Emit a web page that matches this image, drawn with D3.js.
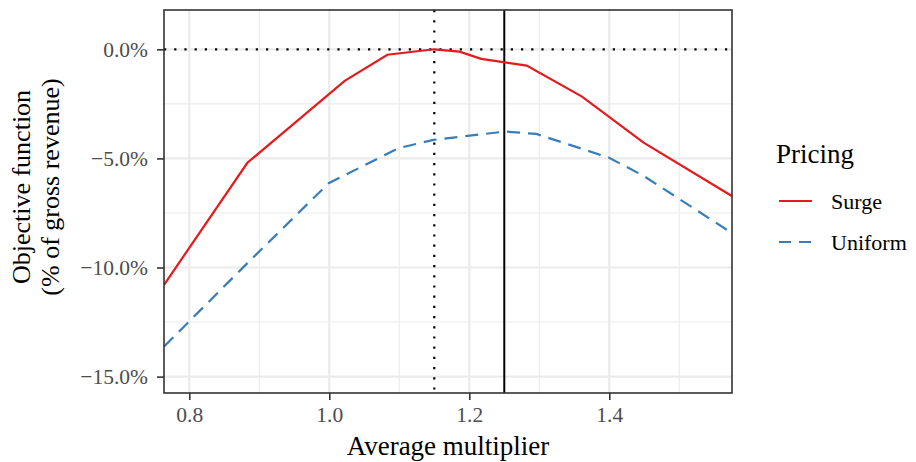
<!DOCTYPE html>
<html>
<head>
<meta charset="utf-8">
<script src="https://cdn.jsdelivr.net/npm/d3@7"></script>
<style>
  body { margin: 0; background: #fff; }
  svg text { font-family: "Liberation Serif", "DejaVu Serif", serif; }
</style>
</head>
<body>
<div id="chart"></div>
<script>
// data (y in % of gross revenue)
const surgeX = [0.764, 0.883, 1.022, 1.083, 1.15, 1.186, 1.217, 1.282, 1.361, 1.449, 1.575];
const surgeY = [-10.79, -5.2, -1.45, -0.25, 0.0, -0.11, -0.44, -0.75, -2.17, -4.28, -6.72];
const uniformX = [0.764, 0.883, 0.999, 1.099, 1.149, 1.251, 1.296, 1.399, 1.449, 1.575];
const uniformY = [-13.62, -9.8, -6.14, -4.53, -4.15, -3.77, -3.88, -4.96, -5.8, -8.42];
const seriesNames = ['Surge', 'Uniform'];
const seriesColors = ['#E41A1C', '#377EB8'];
const xTicks = [0.8, 1.0, 1.2, 1.4];
const xMinor = [0.9, 1.1, 1.3, 1.5];
const yTicks = [0, -5, -10, -15];
const yMinor = [-2.5, -7.5, -12.5];
const surgeOpt = 1.15;
const uniformOpt = 1.25;

const width = 916, height = 462;
const panel = { left: 164, right: 732, top: 10, bottom: 393 };

const svg = d3.select('#chart').append('svg')
  .attr('width', width)
  .attr('height', height);

const x = d3.scaleLinear().domain([0.7639, 1.5753]).range([panel.left, panel.right]);
const y = d3.scaleLinear().domain([-15.75, 1.8]).range([panel.bottom, panel.top]);

svg.append('defs').append('clipPath').attr('id', 'clip')
  .append('rect')
  .attr('x', panel.left).attr('y', panel.top)
  .attr('width', panel.right - panel.left)
  .attr('height', panel.bottom - panel.top);

// grid
const grid = svg.append('g');
grid.selectAll('.xminor').data(xMinor).enter().append('line')
  .attr('x1', d => x(d)).attr('x2', d => x(d))
  .attr('y1', panel.top).attr('y2', panel.bottom)
  .attr('stroke', '#ebebeb').attr('stroke-width', 1.1);
grid.selectAll('.yminor').data(yMinor).enter().append('line')
  .attr('y1', d => y(d)).attr('y2', d => y(d))
  .attr('x1', panel.left).attr('x2', panel.right)
  .attr('stroke', '#ebebeb').attr('stroke-width', 1.1);
grid.selectAll('.xmajor').data(xTicks).enter().append('line')
  .attr('x1', d => x(d)).attr('x2', d => x(d))
  .attr('y1', panel.top).attr('y2', panel.bottom)
  .attr('stroke', '#ebebeb').attr('stroke-width', 2.2);
grid.selectAll('.ymajor').data(yTicks).enter().append('line')
  .attr('y1', d => y(d)).attr('y2', d => y(d))
  .attr('x1', panel.left).attr('x2', panel.right)
  .attr('stroke', '#ebebeb').attr('stroke-width', 2.2);

const plot = svg.append('g').attr('clip-path', 'url(#clip)');

// reference lines
plot.append('line')
  .attr('x1', panel.left).attr('x2', panel.right)
  .attr('y1', y(0)).attr('y2', y(0))
  .attr('stroke', '#000').attr('stroke-width', 2.2)
  .attr('stroke-dasharray', '2.2 8');
plot.append('line')
  .attr('x1', x(surgeOpt)).attr('x2', x(surgeOpt))
  .attr('y1', panel.top).attr('y2', panel.bottom)
  .attr('stroke', '#000').attr('stroke-width', 2.2)
  .attr('stroke-dasharray', '2.2 8');
plot.append('line')
  .attr('x1', x(uniformOpt)).attr('x2', x(uniformOpt))
  .attr('y1', panel.top).attr('y2', panel.bottom)
  .attr('stroke', '#000').attr('stroke-width', 2);

// series
const line = d3.line().x(d => x(d[0])).y(d => y(d[1]));
const series = [
  { name: seriesNames[0], pts: d3.zip(surgeX, surgeY), dash: null },
  { name: seriesNames[1], pts: d3.zip(uniformX, uniformY), dash: '13 8' }
];
plot.selectAll('.series').data(series).enter().append('path')
  .attr('d', d => line(d.pts))
  .attr('fill', 'none')
  .attr('stroke', (d, i) => seriesColors[i])
  .attr('stroke-width', 2.2)
  .attr('stroke-dasharray', d => d.dash);

// panel border
svg.append('rect')
  .attr('x', panel.left).attr('y', panel.top)
  .attr('width', panel.right - panel.left)
  .attr('height', panel.bottom - panel.top)
  .attr('fill', 'none').attr('stroke', '#333').attr('stroke-width', 1.6);

// axes
const fmtY = d => (d < 0 ? '\u2212' : '') + Math.abs(d).toFixed(1) + '%';
const xAxis = svg.append('g')
  .attr('transform', `translate(0,${panel.bottom})`)
  .call(d3.axisBottom(x).tickValues(xTicks).tickFormat(d3.format('.1f')).tickSize(7).tickPadding(7));
const yAxis = svg.append('g')
  .attr('transform', `translate(${panel.left},0)`)
  .call(d3.axisLeft(y).tickValues(yTicks).tickFormat(fmtY).tickSize(7).tickPadding(9));
[xAxis, yAxis].forEach(a => {
  a.select('.domain').remove();
  a.selectAll('.tick line').attr('stroke', '#333').attr('stroke-width', 1.6);
  a.selectAll('.tick text')
    .attr('fill', '#4d4d4d')
    .attr('font-size', '21.5px');
});

// axis titles
svg.append('text')
  .attr('x', (panel.left + panel.right) / 2)
  .attr('y', 455)
  .attr('text-anchor', 'middle')
  .attr('font-size', '27px')
  .text('Average multiplier');

const yTitle = svg.append('text')
  .attr('transform', 'translate(30,187) rotate(-90)')
  .attr('text-anchor', 'middle')
  .attr('font-size', '26px');
yTitle.append('tspan').attr('x', 0).attr('y', 0).text('Objective function');
yTitle.append('tspan').attr('x', 0).attr('y', 29).text('(% of gross revenue)');

// legend
const legend = svg.append('g');
legend.append('text')
  .attr('x', 776).attr('y', 163)
  .attr('font-size', '27px')
  .text('Pricing');
const keys = legend.selectAll('.key').data(series).enter().append('g')
  .attr('transform', (d, i) => `translate(779,${201 + i * 41})`);
keys.append('line')
  .attr('x1', 0).attr('x2', 33)
  .attr('stroke', (d, i) => seriesColors[i])
  .attr('stroke-width', 2.2)
  .attr('stroke-dasharray', d => d.dash ? '12 8' : null);
keys.append('text')
  .attr('x', 52).attr('y', 0)
  .attr('dy', '0.35em')
  .attr('font-size', '22px')
  .text(d => d.name);
</script>
</body>
</html>
